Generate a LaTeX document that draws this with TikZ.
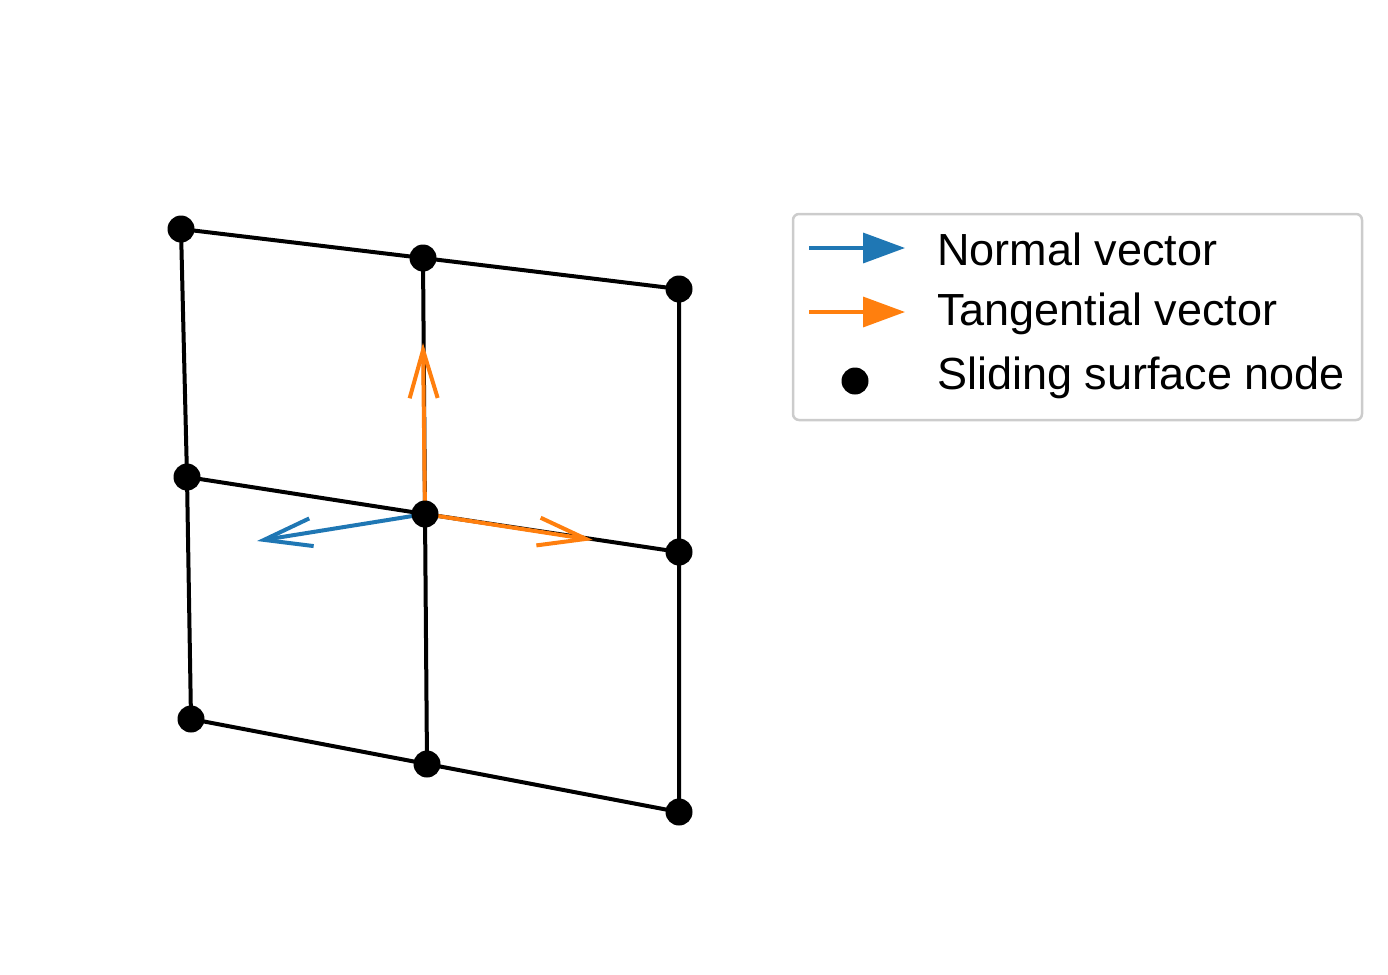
\documentclass[tikz,border=0pt]{standalone}
\usepackage{fontspec}
\setmainfont{Liberation Sans}
\usetikzlibrary{arrows.meta,positioning}
\definecolor{mplblue}{HTML}{1F77B4}
\definecolor{mplorange}{HTML}{FF7F0E}
\begin{document}
\begin{tikzpicture}[x=1pt,y=-1pt,line join=round,
    edge/.style={draw=black,line width=4pt},
    vec/.style={line width=4pt,-{Straight Barb[length=48pt,width=28pt,line width=4pt]}},
    keyvec/.style={line width=3.5pt,-{Triangle[length=42pt,width=30pt]}},
    dot/.style={circle,fill=black,inner sep=0pt,minimum size=27pt},
    lbl/.style={anchor=west,inner sep=0pt,font=\fontsize{45}{54}\selectfont}]
       \useasboundingbox (0,0) rectangle (1388,974);

       % mesh points
       \coordinate (n_00) at (181,229);
       \coordinate (n_01) at (423,258);
       \coordinate (n_02) at (679,289);
       \coordinate (n_10) at (187,477);
       \coordinate (n_11) at (425,514);
       \coordinate (n_12) at (679,552);
       \coordinate (n_20) at (191,719);
       \coordinate (n_21) at (427,764);
       \coordinate (n_22) at (679,812);

       \path[edge]
       (n_00) -- (n_01) -- (n_02)
       (n_10) -- (n_11) -- (n_12)
       (n_20) -- (n_21) -- (n_22)
       (n_00) -- (n_10) -- (n_20)
       (n_01) -- (n_11) -- (n_21)
       (n_02) -- (n_12) -- (n_22);

       % vectors at the middle node
       \coordinate (t_up) at (423,343);
       \coordinate (t_right) at (593,540);
       \coordinate (n_left) at (257,541);
       \draw[vec,mplorange] (n_11) -- (t_up);
       \draw[vec,mplorange] (n_11) -- (t_right);
       \draw[vec,mplblue] (n_11) -- (n_left);

       \foreach \n in {n_00,n_01,n_02,n_10,n_11,n_12,n_20,n_21,n_22}
         \node[dot] at (\n) {};

       % legend
       \node[draw=black!20,line width=2.5pt,rounded corners=6pt,fill=white,
             minimum width=569pt,minimum height=206pt,inner sep=0pt]
             (key) at (1077.5,317) {};
       \coordinate (k_a0) at (809,248);
       \coordinate (k_a1) at (905,248);
       \coordinate (k_b0) at (809,312);
       \coordinate (k_b1) at (905,312);
       \draw[keyvec,mplblue] (k_a0) -- (k_a1);
       \draw[keyvec,mplorange] (k_b0) -- (k_b1);
       \node[dot] (k_dot) at (855,381) {};
       \node[lbl] (l_normal) at (937,249) {Normal vector};
       \node[lbl] (l_tang) at (937,314) {Tangential vector};
       \node[lbl] (l_node) at (937,378) {Sliding surface node};
     \end{tikzpicture}
\end{document}
